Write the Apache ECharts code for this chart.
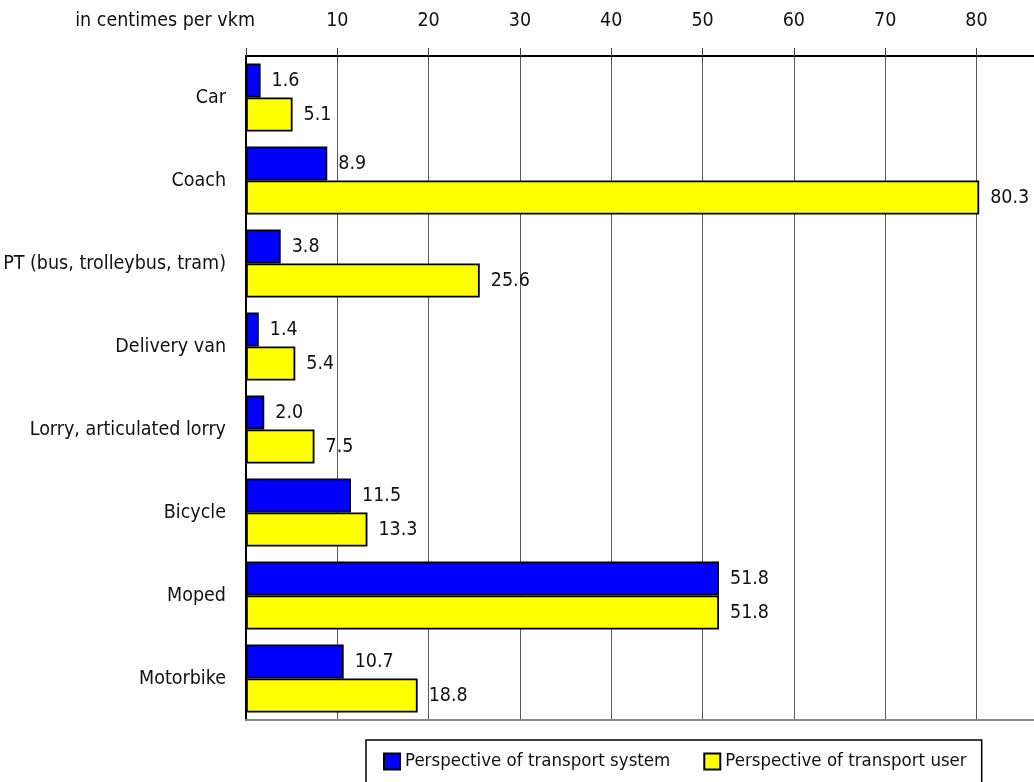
<!DOCTYPE html>
<html>
<head>
<meta charset="utf-8">
<script src="https://cdn.jsdelivr.net/npm/echarts@6/dist/echarts.min.js"></script>
<style>
  html, body { margin: 0; padding: 0; background: #fff; }
  #chart { width: 1034px; height: 782px; }
</style>
</head>
<body>
<div id="chart"></div>
<script>
// Cost per vehicle-kilometre, by vehicle type
const categories = ['Car', 'Coach', 'PT (bus, trolleybus, tram)', 'Delivery van',
  'Lorry, articulated lorry', 'Bicycle', 'Moped', 'Motorbike'];
const systemValues = [1.6, 8.9, 3.8, 1.4, 2.0, 11.5, 51.8, 10.7];
const userValues = [5.1, 80.3, 25.6, 5.4, 7.5, 13.3, 51.8, 18.8];
const seriesNames = ['Perspective of transport system', 'Perspective of transport user'];
const unitLabel = 'in centimes per vkm';

const FONT = '"Liberation Sans Narrow", "Arial Narrow", "DejaVu Sans Condensed", sans-serif';
const FS = 19.5;

const chart = echarts.init(document.getElementById('chart'), null, { renderer: 'canvas' });

const valueLabel = {
  show: true,
  position: 'right',
  distance: 11,
  color: '#111',
  fontFamily: FONT,
  fontSize: FS,
  formatter: p => p.value.toFixed(1)
};

chart.setOption({
  animation: false,
  backgroundColor: '#fff',
  textStyle: { fontFamily: FONT },
  grid: { left: 246, right: 0, top: 56, bottom: 62, containLabel: false, outerBoundsMode: 'none' },
  graphic: [{
    type: 'text',
    x: 255,
    y: 21,
    style: {
      text: unitLabel, fontFamily: FONT, fontSize: FS, fill: '#111',
      textAlign: 'right', textVerticalAlign: 'middle'
    }
  }],
  legend: {
    left: 366,
    top: 740,
    padding: [12, 15, 20, 17],
    itemWidth: 16,
    itemHeight: 16,
    itemGap: 33,
    borderColor: '#000',
    borderWidth: 1.5,
    textStyle: { fontFamily: FONT, fontSize: 18.5, color: '#111' },
    data: seriesNames.map(n => ({ name: n, icon: 'rect' }))
  },
  xAxis: [{
    type: 'value',
    position: 'top',
    min: 0,
    max: 86.3,
    interval: 10,
    axisLine: { show: true, lineStyle: { color: '#000', width: 2 } },
    axisTick: { show: true, inside: false, length: 8, lineStyle: { color: '#444', width: 1 } },
    axisLabel: {
      margin: 25,
      fontFamily: FONT,
      fontSize: FS,
      color: '#111',
      showMaxLabel: false,
      formatter: v => (v === 0 ? '' : String(v))
    },
    splitLine: { show: true, lineStyle: { color: '#5a5a5a', width: 1 } }
  }, {
    type: 'value',
    position: 'bottom',
    min: 0,
    max: 86.3,
    interval: 10,
    axisLine: { show: true, lineStyle: { color: '#888', width: 2 } },
    axisTick: { show: false },
    axisLabel: { show: false },
    splitLine: { show: false }
  }],
  yAxis: {
    type: 'category',
    inverse: true,
    data: categories,
    axisLine: { show: true, lineStyle: { color: '#000', width: 2 } },
    axisTick: { show: false },
    axisLabel: { margin: 20, fontFamily: FONT, fontSize: FS, color: '#111' }
  },
  series: [{
    name: seriesNames[0],
    type: 'bar',
    xAxisIndex: 0,
    data: systemValues,
    barGap: '0%',
    barCategoryGap: '18%',
    itemStyle: { color: '#0000ff', borderColor: '#000', borderWidth: 1.8 },
    label: valueLabel
  }, {
    name: seriesNames[1],
    type: 'bar',
    xAxisIndex: 0,
    data: userValues,
    barGap: '0%',
    barCategoryGap: '18%',
    itemStyle: { color: '#ffff00', borderColor: '#000', borderWidth: 1.8 },
    label: valueLabel
  }]
});
</script>
</body>
</html>
